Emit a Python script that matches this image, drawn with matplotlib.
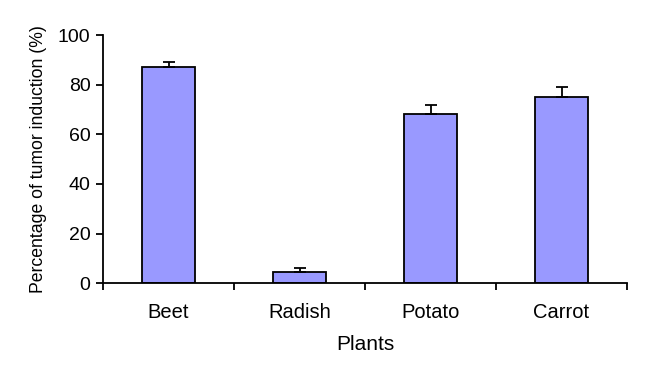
import matplotlib.pyplot as plt

plants = ["Beet", "Radish", "Potato", "Carrot"]
induction = [87.2, 4.4, 68.1, 75.1]
err_up = [2.0, 1.5, 3.6, 4.1]

plt.rcParams['font.family'] = ['Liberation Sans', 'DejaVu Sans']

fig = plt.figure(figsize=(6.61, 3.78), dpi=100)
ax = fig.add_axes([0.156, 0.251, 0.7926, 0.656])

x = range(len(plants))
ax.bar(x, induction, width=0.41, color="#9999ff", edgecolor="black", linewidth=1.3,
       yerr=[[0] * len(err_up), err_up],
       error_kw=dict(ecolor="black", elinewidth=1.3, capsize=4.5, capthick=1.3))

ax.set_xlim(-0.5, len(plants) - 0.5)
ax.set_ylim(0, 100)
ax.set_yticks(range(0, 101, 20))
ax.set_xticks([i - 0.5 for i in range(len(plants) + 1)])
ax.set_xticklabels([])
ax.set_xticks(list(x), minor=True)
ax.set_xticklabels(plants, minor=True)
ax.tick_params(axis="x", which="minor", length=0, labelsize=14.5, pad=14)
ax.tick_params(axis="x", which="major", length=5, width=1.3, direction="out")
ax.tick_params(axis="y", length=5, width=1.3, labelsize=14, pad=4)

for side in ["top", "right"]:
    ax.spines[side].set_visible(False)
for side in ["left", "bottom"]:
    ax.spines[side].set_linewidth(1.3)

ax.set_xlabel("Plants", fontsize=15, labelpad=10)
ax.set_ylabel("Percentage of tumor induction (%)", fontsize=12.7, labelpad=8)

fig.savefig("out.png", dpi=100)
